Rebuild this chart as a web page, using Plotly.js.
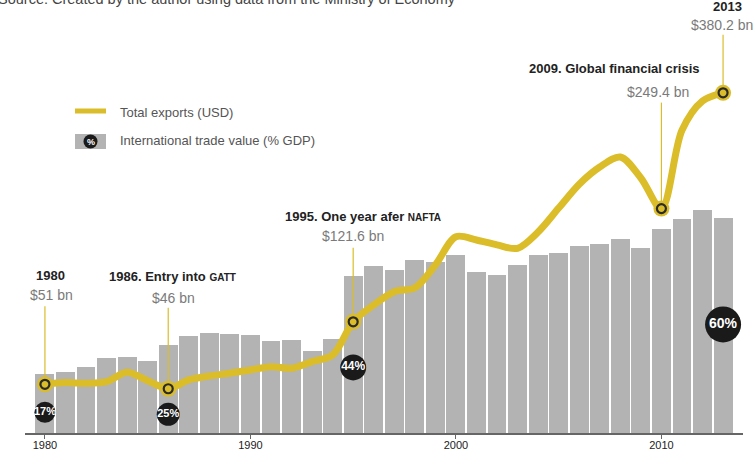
<!DOCTYPE html>
<html>
<head>
<meta charset="utf-8">
<script src="https://cdn.plot.ly/plotly-3.0.1.min.js"></script>
<style>html,body{margin:0;padding:0;background:#fff;}#chart{width:754px;height:454px;}
svg text{font-stretch:condensed !important;}</style>
</head>
<body>
<div id="chart"></div>
<script>
// ---- data ----
var years = [1980,1981,1982,1983,1984,1985,1986,1987,1988,1989,1990,1991,1992,1993,1994,1995,1996,1997,1998,1999,2000,2001,2002,2003,2004,2005,2006,2007,2008,2009,2010,2011,2012,2013];
var tradePctGDP = [16.6,17.0,18.4,20.9,21.1,20.0,24.7,27.0,28.0,27.5,27.3,25.6,25.9,23.0,26.2,43.9,46.5,45.6,48.2,47.8,49.6,44.8,44.1,46.8,49.6,50.1,52.1,52.7,54.1,51.5,56.8,59.6,62.2,60.0];
var exportsBn = [51,52.9,52.2,54,64.6,55.1,46,55.9,60.4,63.5,67.2,70.9,69.1,76.6,84.1,121.6,140.6,155.6,160,185.8,217.7,214,208.4,204.6,223,250,277,296.4,307.7,284,249.4,338,371,380.2];
var keyYears = [1980,1986,1995,2010,2013];
var keyValues = [51,46,121.6,249.4,380.2];
var keyTitles = ['1980','1986. Entry into <span style="font-size:10px">GATT</span>','1995. One year afer <span style="font-size:10px">NAFTA</span>','2009. Global financial crisis','2013'];
var keyLabels = ['$51 bn','$46 bn','$121.6 bn','$249.4 bn','$380.2 bn'];
var pctYears = [1980,1986,1995,2013];
var pctLabels = ['17%','25%','44%','60%'];
var tickYears = [1980,1990,2000,2010];
var tickLabels = ['1980','1990','2000','2010'];

var FONT = '"Liberation Sans Narrow", "Liberation Sans", "DejaVu Sans", sans-serif';
var GOLD = '#dbbd2a';

var traces = [
  {type:'bar', x:years, y:tradePctGDP, marker:{color:'#b3b3b3', line:{width:0}}, width:0.92, hoverinfo:'skip'},
  {type:'scatter', mode:'text+markers', x:pctYears, y:[5.8,5.2,18.3,30.3], text:pctLabels,
   textfont:{family:FONT, size:[11,11,12,14], color:'#ffffff', weight:'bold'}, textposition:'middle center',
   marker:{color:'#1a1a1a', opacity:1, size:[21,23,26,36], line:{width:0}}, hoverinfo:'skip'},
  {type:'scatter', mode:'lines', x:years, y:exportsBn, yaxis:'y2', line:{color:GOLD, width:7, shape:'spline', smoothing:0.9}, hoverinfo:'skip'},
  {type:'scatter', mode:'markers', x:keyYears, y:keyValues, yaxis:'y2', marker:{color:GOLD, size:16}, hoverinfo:'skip'},
  {type:'scatter', mode:'markers', x:keyYears, y:keyValues, yaxis:'y2', marker:{color:GOLD, size:9, line:{color:'#2b2b2b', width:2.2}}, hoverinfo:'skip'}
];

var titleShift = [[6,109],[4,112],[10,105],[-47,140],[4,86]];
var labelShift = [[7,89],[5,91],[0,86],[-3,117],[-1,68]];
var connTop = [78,81,74,106,58];

var annotations = [];
var shapes = [];
for (var i=0;i<keyYears.length;i++){
  annotations.push({x:keyYears[i], y:keyValues[i], xref:'x', yref:'y2', showarrow:false, xanchor:'center', yanchor:'middle',
    xshift:titleShift[i][0], yshift:titleShift[i][1], text:'<b>'+keyTitles[i]+'</b>', font:{family:FONT, size:13, color:'#222222'}});
  annotations.push({x:keyYears[i], y:keyValues[i], xref:'x', yref:'y2', showarrow:false, xanchor:'center', yanchor:'middle',
    xshift:labelShift[i][0], yshift:labelShift[i][1], text:keyLabels[i], font:{family:FONT, size:14, color:'#7a7a7a'}});
  shapes.push({type:'line', xref:'x', yref:'y2', x0:keyYears[i], x1:keyYears[i], ysizemode:'pixel', yanchor:keyValues[i], y0:6, y1:connTop[i],
    line:{color:GOLD, width:1.2}});
}
// source line (partially cut at top)
annotations.push({xref:'paper', yref:'paper', x:0, y:1, xanchor:'left', yanchor:'middle', xshift:-29, yshift:1, showarrow:false,
  text:'Source: Created by the author using data from the Ministry of Economy', font:{family:FONT, size:14.5, color:'#444444'}});
// legend
var px = function(p){return (p-25)/718;};
var py = function(p){return (433-p)/433;};
shapes.push({type:'line', xref:'paper', yref:'paper', x0:px(75), x1:px(106), y0:py(111), y1:py(111), line:{color:GOLD, width:5}});
shapes.push({type:'rect', xref:'paper', yref:'paper', x0:px(75), x1:px(106), y0:py(134), y1:py(149), fillcolor:'#b3b3b3', line:{width:0}});
shapes.push({type:'circle', xref:'paper', yref:'paper', x0:px(83.5), x1:px(97.5), y0:py(134.5), y1:py(148.5), fillcolor:'#1a1a1a', line:{width:0}});
annotations.push({xref:'paper', yref:'paper', x:px(90.5), y:py(141.5), showarrow:false, xanchor:'center', yanchor:'middle',
  text:'<b>%</b>', font:{family:FONT, size:9, color:'#ffffff'}});
annotations.push({xref:'paper', yref:'paper', x:px(118), y:py(112), showarrow:false, xanchor:'left', yanchor:'middle',
  text:'Total exports (USD)', font:{family:FONT, size:13, color:'#555555'}});
annotations.push({xref:'paper', yref:'paper', x:px(118), y:py(141), showarrow:false, xanchor:'left', yanchor:'middle',
  text:'International trade value (% GDP)', font:{family:FONT, size:13, color:'#555555'}});

var layout = {
  width:754, height:454, margin:{l:25, r:11, t:0, b:21},
  paper_bgcolor:'#ffffff', plot_bgcolor:'#ffffff', showlegend:false,
  bargap:0,
  xaxis:{range:[1979.03,2013.97], tickmode:'array', tickvals:tickYears, ticktext:tickLabels, ticks:'outside', ticklen:4, tickcolor:'#666666',
    ticklabelstandoff:-3,
    showline:true, linecolor:'#666666', linewidth:2, showgrid:false, zeroline:false, tickfont:{family:FONT, size:11, color:'#222222'}, fixedrange:true},
  yaxis:{range:[0,120.85], visible:false, showgrid:false, zeroline:false, fixedrange:true},
  yaxis2:{range:[-4,485], overlaying:'y', visible:false, showgrid:false, zeroline:false, fixedrange:true},
  shapes:shapes, annotations:annotations
};
Plotly.newPlot('chart', traces, layout, {displayModeBar:false, staticPlot:true});
</script>
</body>
</html>
